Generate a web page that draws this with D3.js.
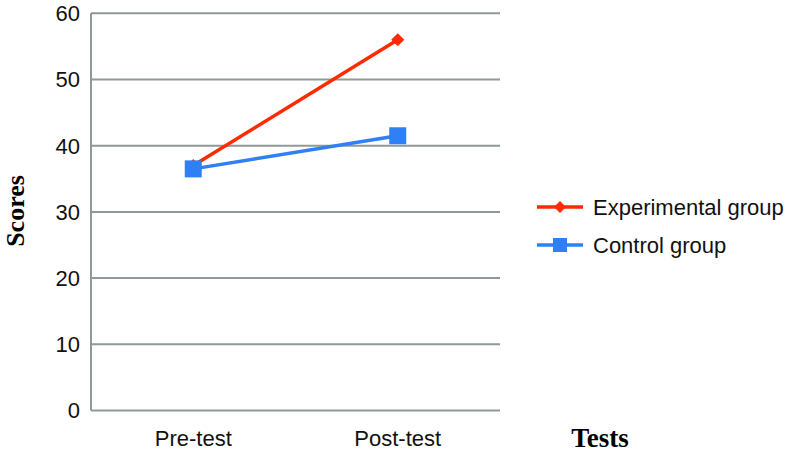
<!DOCTYPE html>
<html><head><meta charset="utf-8">
<script src="https://cdn.jsdelivr.net/npm/d3@7"></script>
<style>body{margin:0;background:#fff}</style>
</head><body>
<svg id="c" width="787" height="459"></svg>
<script>
const categories = ["Pre-test", "Post-test"];
const experimental = [37, 56];
const control = [36.5, 41.5];
const yTicks = [0, 10, 20, 30, 40, 50, 60];
const seriesNames = ["Experimental group", "Control group"];
const colors = ["#ff2a00", "#2f7ff5"];

const svg = d3.select("#c");
const x = d3.scalePoint().domain(categories).range([91, 500]).padding(0.5);
const y = d3.scaleLinear().domain([0, 60]).range([410.5, 13.3]);
const grid = "#8e9a99";
const font = "Liberation Sans, Arial, sans-serif";
const serif = "Liberation Serif, Times New Roman, serif";

svg.append("g").selectAll("line").data(yTicks).join("line")
  .attr("x1", 91).attr("x2", 500)
  .attr("y1", d => y(d)).attr("y2", d => y(d))
  .attr("stroke", grid).attr("stroke-width", 2);
svg.append("line").attr("x1", 91).attr("x2", 91).attr("y1", y(60)).attr("y2", y(0))
  .attr("stroke", grid).attr("stroke-width", 2);

svg.append("g").selectAll("text").data(yTicks).join("text")
  .attr("x", 80).attr("y", d => y(d)).attr("dy", "0.36em")
  .attr("text-anchor", "end").attr("font-family", font).attr("font-size", 22)
  .attr("fill", "#111").text(d => d);

svg.append("g").selectAll("text").data(categories).join("text")
  .attr("x", d => x(d)).attr("y", 446)
  .attr("text-anchor", "middle").attr("font-family", font).attr("font-size", 22)
  .attr("fill", "#111").text(d => d);

svg.append("text").attr("transform", "translate(24,211) rotate(-90)")
  .attr("text-anchor", "middle").attr("font-family", serif)
  .attr("font-weight", "bold").attr("font-size", 26).text("Scores");
svg.append("text").attr("x", 600).attr("y", 447)
  .attr("text-anchor", "middle").attr("font-family", serif)
  .attr("font-weight", "bold").attr("font-size", 27).text("Tests");

const line = d3.line().x((d, i) => x(categories[i])).y(d => y(d));
const series = [experimental, control];

series.forEach((vals, s) => {
  svg.append("path").datum(vals).attr("d", line).attr("fill", "none")
    .attr("stroke", colors[s]).attr("stroke-width", 3.5);
});
svg.append("g").selectAll("path").data(experimental).join("path")
  .attr("transform", (d, i) => `translate(${x(categories[i])},${y(d)})`)
  .attr("d", d3.symbol(d3.symbolDiamond2, 110)).attr("fill", colors[0]);
svg.append("g").selectAll("rect").data(control).join("rect")
  .attr("x", (d, i) => x(categories[i]) - 8.5).attr("y", d => y(d) - 8.5)
  .attr("width", 17).attr("height", 17).attr("fill", colors[1]);

const legY = [207, 245];
seriesNames.forEach((n, s) => {
  const g = svg.append("g");
  g.append("line").attr("x1", 537).attr("x2", 583).attr("y1", legY[s]).attr("y2", legY[s])
    .attr("stroke", colors[s]).attr("stroke-width", 3.5);
  if (s === 0) {
    g.append("path").attr("transform", `translate(560,${legY[s]})`)
      .attr("d", d3.symbol(d3.symbolDiamond2, 90)).attr("fill", colors[s]);
  } else {
    g.append("rect").attr("x", 553).attr("y", legY[s] - 7).attr("width", 14).attr("height", 14)
      .attr("fill", colors[s]);
  }
  g.append("text").attr("x", 593).attr("y", legY[s]).attr("dy", "0.36em")
    .attr("font-family", font).attr("font-size", 22).attr("fill", "#111").text(n);
});
</script>
</body></html>
